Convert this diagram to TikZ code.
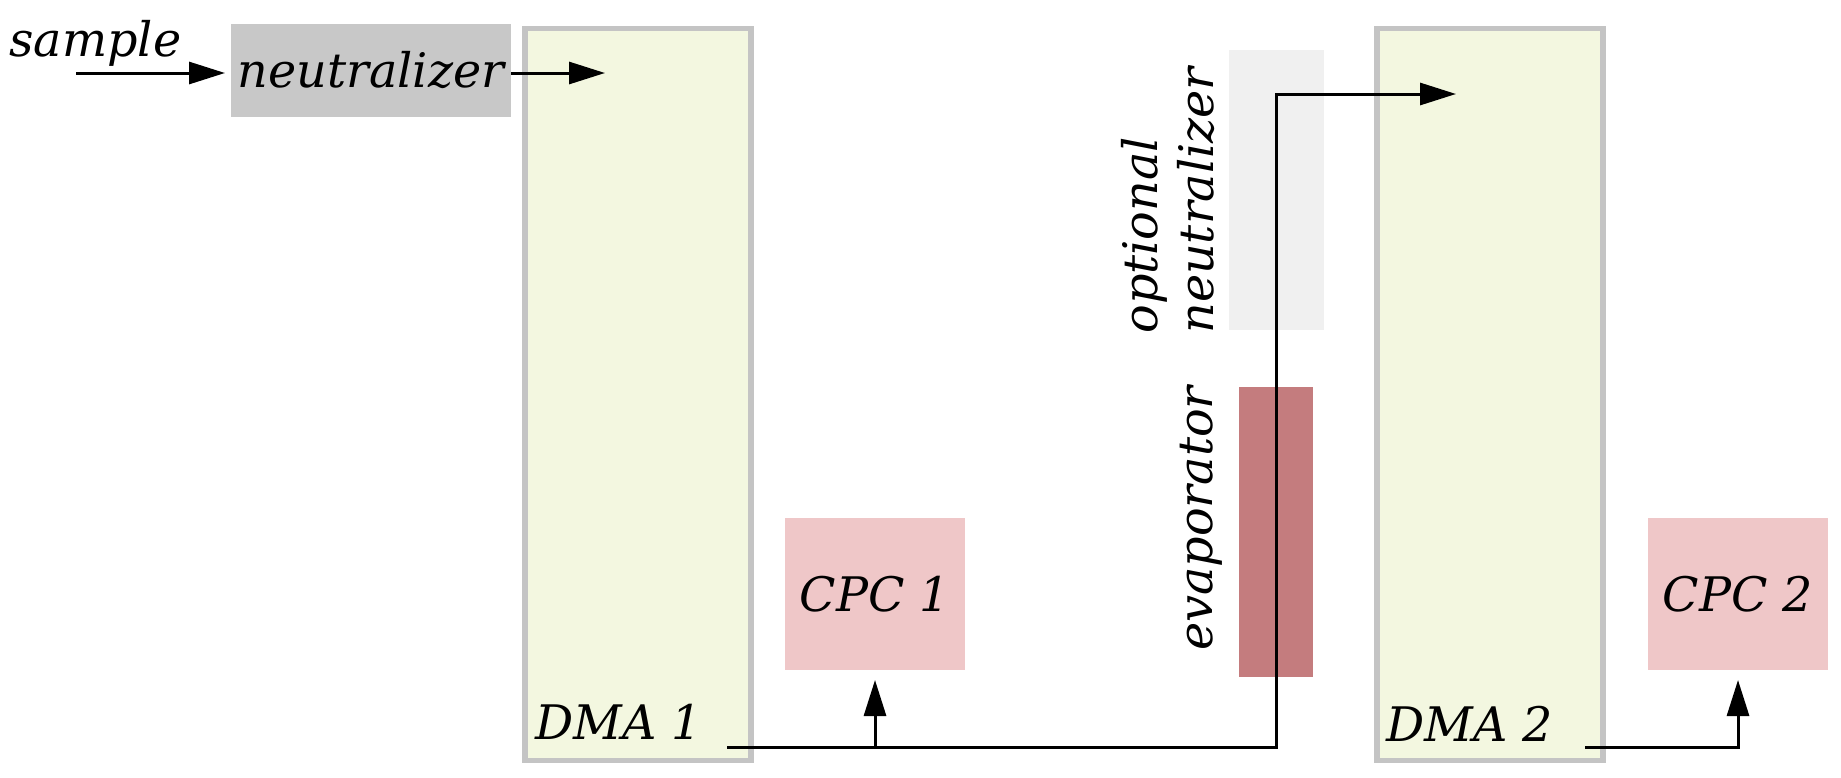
\documentclass[tikz,border=0pt]{standalone}
\usepackage{fontspec}
\setmainfont{DejaVu Serif}
\usetikzlibrary{arrows.meta, positioning}
\definecolor{dmafill}{HTML}{F3F7E0}
\definecolor{dmaedge}{HTML}{C4C4C4}
\definecolor{neutgray}{HTML}{C8C8C8}
\definecolor{optgray}{HTML}{F0F0F0}
\definecolor{cpcpink}{HTML}{EFC7C8}
\definecolor{evapred}{HTML}{C47C7E}
\tikzset{
  lbl/.style     = {font=\fontsize{23.8}{27.7}\selectfont\itshape, inner sep=0pt},
  blk/.style     = {lbl, inner sep=0pt, outer sep=0pt},
  neutbox/.style = {blk, fill=neutgray, minimum width=140pt, minimum height=46.5pt},
  dmabox/.style  = {blk, fill=dmafill, draw=dmaedge, line width=2.8pt,
                    minimum width=113pt, minimum height=366pt},
  cpcbox/.style  = {blk, fill=cpcpink, minimum width=90pt, minimum height=76pt},
  optbox/.style  = {blk, fill=optgray, minimum width=47.5pt, minimum height=140pt},
  evapbox/.style = {blk, fill=evapred, minimum width=37pt, minimum height=145pt},
  pipe/.style    = {draw=black, line width=1.5pt},
  flow/.style    = {pipe, -{Triangle[length=18pt, width=11pt]}},
}

\begin{document}
\begin{tikzpicture}[x=0.5pt, y=-0.5pt]
  \useasboundingbox (0,0) rectangle (1841,777);
  \node[neutbox] (neut) at (371,70) {neutralizer};
  \node[dmabox] (dma1) at (638,394.5) {};
  \node[dmabox] (dma2) at (1490,394.5) {};
  \node[cpcbox] (cpc1) at (875,594) {CPC 1};
  \node[cpcbox] (cpc2) at (1738,594) {CPC 2};
  \node[optbox] (optn) at (1276,190) {};
  \node[evapbox] (evap) at (1276,532) {};
  \node[lbl, anchor=base west] (samplab) at (9,56) {sample};
  \node[lbl, anchor=base west] (dmalab1) at (535,739) {DMA 1};
  \node[lbl, anchor=base west] (dmalab2) at (1386,741) {DMA 2};
  \node[lbl, rotate=90, anchor=base west, align=left] (optlab) at (1213,334) {optional\\neutralizer};
  \node[lbl, rotate=90, anchor=base west] (evaplab) at (1212,651) {evaporator};
  \coordinate (sampin) at (76,73);
  \coordinate (dma1in) at (605,73);
  \coordinate (dma1out) at (727,747);
  \coordinate (dma2in) at (1456,94);
  \coordinate (dma2out) at (1585,747);
  \draw[flow, shorten >=3pt] (sampin) -- (sampin -| neut.west);
  \draw[flow] (neut.east |- dma1in) -- (dma1in);
  \draw[flow] (dma1out) -| (optn.center) |- (dma2in);
  \draw[flow, shorten >=5pt] (cpc1.south |- dma1out) -- (cpc1.south);
  \draw[flow, shorten >=5pt] (dma2out) -| (cpc2.south);
\end{tikzpicture}
\end{document}
